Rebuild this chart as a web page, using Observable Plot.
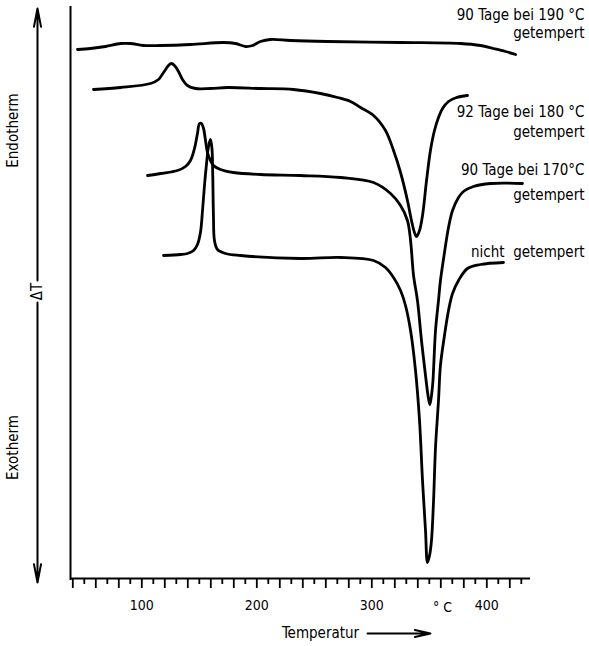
<!DOCTYPE html>
<html>
<head>
<meta charset="utf-8">
<script src="https://cdn.jsdelivr.net/npm/d3@7"></script>
<script src="https://cdn.jsdelivr.net/npm/@observablehq/plot@0.6"></script>
<style>
  html, body { margin: 0; padding: 0; background: #fff; }
  #chart svg { display: block; }
</style>
</head>
<body>
<div id="chart"></div>
<script>
// ---- Data (temperature °C, ΔT in arbitrary units) ----
const curve190T  = [44.1,55.4,68.4,81.5,90.2,101.5,116.3,142.3,171.0,181.5,190.2,196.3,203.2,211.9,229.3,261.5,325.0,377.1,394.5,405.8,416.3,425.0];
const curve190dT = [529,530,532,535,535,533,533,534,536,535,532,533,537,539,538,537,536,535,533,530,527,524];

const curve180T  = [58.0,81.5,107.6,114.5,118.9,123.2,125.8,128.4,131.9,135.4,139.7,146.7,159.7,174.5,203.2,231.9,255.4,270.2,281.5,290.2,301.5,311.9,318.9,325.0,331.0,334.5,337.1,338.9,341.5,344.1,347.6,351.0,354.5,358.0,361.5,366.7,373.7,383.2];
const curve180dT = [489,491,495,499,506,513,515,513,507,499,493,490,490,491,490,489,485,481,477,471,463,448,428,406,378,358,346,342,348,363,398,428,448,461,470,477,481,483];

const curve170T  = [105.0,116.3,131.0,138.0,142.3,145.8,148.4,150.2,151.9,153.7,155.4,157.1,159.7,162.3,168.4,179.7,203.2,238.0,272.8,301.5,316.3,325.0,331.0,333.7,336.3,339.7,343.2,346.7,349.3,350.6,352.4,353.2,355.4,358.0,359.7,363.2,366.7,370.2,375.4,379.7,388.4,403.2,431.0];
const curve170dT = [403,405,408,412,418,430,445,455,455,450,438,426,418,413,409,406,404,403,401,396,385,373,358,338,303,278,238,203,180,174,188,198,248,278,298,326,351,368,381,387,392,395,395];

const curveNichtT  = [118.9,133.7,139.7,145.0,148.4,151.0,152.8,154.5,156.3,158.0,159.7,161.0,161.7,162.3,163.2,165.8,172.8,185.8,238.0,272.8,301.5,311.9,318.9,325.0,329.3,333.7,338.0,341.5,344.1,346.7,348.4,350.2,351.9,353.7,355.4,358.0,359.7,363.2,366.7,370.2,375.4,383.2,394.5,414.5];
const curveNichtdT = [323,324,325,328,334,346,368,393,415,432,439,430,403,363,338,329,325,323,320,321,318,311,301,288,273,248,208,158,98,48,16,23,38,78,131,178,213,243,268,285,298,310,314,316];

const seriesNames = ["90 Tage bei 190 °C getempert", "92 Tage bei 180 °C getempert", "90 Tage bei 170°C getempert", "nicht getempert"];
const labelLines = [
  ["90 Tage bei 190 °C", "getempert"],
  ["92 Tage bei 180 °C", "getempert"],
  ["90 Tage bei 170°C", "getempert"],
  ["nicht  getempert"]
];
const tickValues = [100, 200, 300, 400];
const tickLabels = ["100", "200", "300", "400"];
const majorTicks = d3.range(40, 440, 20);
const minorTicks = d3.range(50, 440, 20);
const unitLabel = "° C";
const xTitle = "Temperatur";
const yTitle = "ΔT";
const endoLabel = "Endotherm";
const exoLabel = "Exotherm";

// ---- Build rows ----
const curves = [
  [curve190T, curve190dT],
  [curve180T, curve180dT],
  [curve170T, curve170dT],
  [curveNichtT, curveNichtdT]
];
const rows = curves.flatMap(([T, dT], i) => T.map((t, j) => ({series: seriesNames[i], T: t, dT: dT[j]})));

const font = "'DejaVu Sans Condensed', 'Liberation Sans Narrow', 'DejaVu Sans', sans-serif";
const ink = "#000";

const labelY = [[563, 545], [466, 446], [408, 383], [326]];
const labelMarks = labelLines.flatMap((lines, i) =>
  lines.map((s, k) => Plot.text([s], {
    x: 438, y: labelY[i][k], dx: 54, textAnchor: "end", lineAnchor: "middle",
    fontSize: 15, fill: ink
  }))
);

const chart = Plot.plot({
  width: 589,
  height: 646,
  marginLeft: 70,
  marginRight: 59,
  marginTop: 8,
  marginBottom: 68,
  x: {domain: [38, 438]},
  y: {domain: [0, 570], axis: null},
  style: {fontFamily: font, background: "#fff", color: ink, overflow: "visible"},
  marks: [
    // frame lines
    Plot.ruleX([38], {y1: -2, y2: 572, stroke: ink, strokeWidth: 2}),
    Plot.ruleY([0], {x1: 38, x2: 438, stroke: ink, strokeWidth: 2.2}),
    // x ticks
    Plot.axisX(majorTicks, {tickSize: 10, tickFormat: () => "", label: null, strokeWidth: 1.8, stroke: ink, strokeOpacity: 1}),
    Plot.axisX(minorTicks, {tickSize: 6, tickFormat: () => "", label: null, strokeWidth: 1.8, stroke: ink, strokeOpacity: 1}),
    Plot.axisX(tickValues, {tickSize: 0, tickPadding: 22, tickFormat: (d) => tickLabels[tickValues.indexOf(d)], label: null, fontSize: 14, fill: ink}),
    Plot.text([unitLabel], {x: 361.5, y: -29, fontSize: 14, lineAnchor: "middle", fill: ink}),
    // x title with arrow
    Plot.text([xTitle], {x: 255.4, y: -55, fontSize: 15, lineAnchor: "middle", fill: ink}),
    Plot.arrow([0], {x1: 296.3, x2: 351, y1: -55, y2: -55, stroke: ink, strokeWidth: 2, headLength: 12, headAngle: 25}),
    // left ΔT double arrow
    Plot.arrow([0], {x1: 9.3, x2: 9.3, y1: 298, y2: 570, stroke: ink, strokeWidth: 2, headLength: 14, headAngle: 22}),
    Plot.arrow([0], {x1: 9.3, x2: 9.3, y1: 276, y2: -4, stroke: ink, strokeWidth: 2, headLength: 14, headAngle: 22}),
    Plot.text([yTitle], {x: 9.3, y: 287, rotate: -90, fontSize: 15, lineAnchor: "middle", fill: ink}),
    Plot.text([endoLabel], {x: -11.6, y: 448, rotate: -90, fontSize: 15, lineAnchor: "middle", fill: ink}),
    Plot.text([exoLabel], {x: -11.6, y: 131, rotate: -90, fontSize: 15, lineAnchor: "middle", fill: ink}),
    // curves
    Plot.line(rows, {x: "T", y: "dT", z: "series", stroke: ink, strokeWidth: 2.8, curve: "catmull-rom", strokeLinejoin: "round", strokeLinecap: "round"}),
    ...labelMarks
  ]
});
document.getElementById("chart").appendChild(chart);
</script>
</body>
</html>
